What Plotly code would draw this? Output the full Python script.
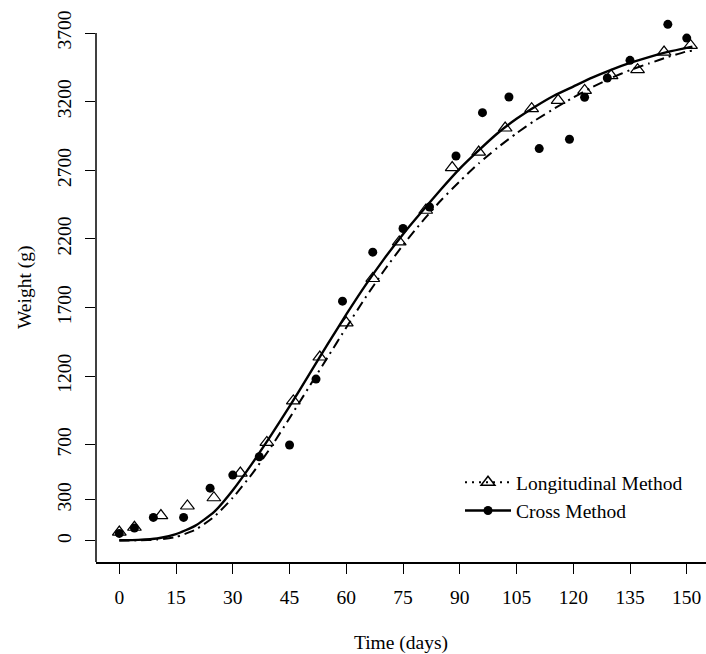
import plotly.graph_objects as go

# ---- data ----
long_days = [0, 4, 11, 18, 25, 32, 39, 46, 53, 60, 67, 74, 81, 88, 95, 102, 109, 116, 123, 130, 137, 144, 151]
long_weight = [65, 100, 185, 255, 315, 495, 718, 1020, 1340, 1589, 1912, 2178, 2409, 2720, 2833, 3008,
               3149, 3210, 3282, 3390, 3433, 3561, 3610]

cross_days = [0, 4, 9, 17, 24, 30, 37, 45, 52, 59, 67, 75, 82, 89, 96, 103, 111, 119, 123, 129, 135, 145, 150]
cross_weight = [55, 95, 172, 172, 385, 480, 614, 699, 1179, 1747, 2104, 2276, 2433, 2804, 3120, 3234,
                2858, 2926, 3232, 3372, 3501, 3763, 3663]

fit_days = [0, 5, 10, 15, 20, 25, 30, 35, 40, 45, 50, 55, 60, 65, 70, 75, 80, 85, 90, 95, 100,
            105, 110, 115, 120, 125, 130, 135, 140, 145, 150, 151.5]
cross_fit = [5, 8, 18, 50, 110, 210, 370, 560, 765, 980, 1205, 1430, 1650, 1860, 2055, 2235, 2400,
             2560, 2712, 2845, 2970, 3075, 3165, 3245, 3310, 3375, 3432, 3482, 3525, 3562, 3592, 3600]
long_fit = [3, 5, 10, 30, 80, 175, 315, 485, 680, 895, 1115, 1335, 1555, 1770, 1970, 2155, 2325,
            2480, 2620, 2750, 2865, 2970, 3065, 3150, 3230, 3305, 3372, 3430, 3478, 3525, 3566, 3572]

x_ticks = [0, 15, 30, 45, 60, 75, 90, 105, 120, 135, 150]
y_ticks = [0, 300, 700, 1200, 1700, 2200, 2700, 3200, 3700]

FONT = "Liberation Serif"
FS = 19.5
BLACK = "#000000"
Y_MIN, Y_MAX = -153, 3904

fig = go.Figure()

# fitted curves
fig.add_trace(go.Scatter(x=fit_days, y=long_fit, mode="lines", showlegend=False,
                         line=dict(color=BLACK, width=2, dash="10px,5px,2px,5px", shape="spline", smoothing=0.5),
                         hoverinfo="skip"))
fig.add_trace(go.Scatter(x=fit_days, y=cross_fit, mode="lines", showlegend=False,
                         line=dict(color=BLACK, width=2.4, shape="spline", smoothing=0.5),
                         hoverinfo="skip"))

# observed points
fig.add_trace(go.Scatter(x=long_days, y=long_weight, mode="markers", showlegend=False,
                         marker=dict(symbol="triangle-up-open", size=12, color=BLACK,
                                     line=dict(color=BLACK, width=1.2))))
fig.add_trace(go.Scatter(x=cross_days, y=cross_weight, mode="markers", showlegend=False,
                         marker=dict(symbol="circle", size=9, color=BLACK)))

# legend entries
fig.add_trace(go.Scatter(x=[None], y=[None], mode="lines+markers", name="Longitudinal Method",
                         line=dict(color=BLACK, width=2, dash="2px,5px"),
                         marker=dict(symbol="triangle-up-open", size=12, color=BLACK,
                                     line=dict(color=BLACK, width=1.5))))
fig.add_trace(go.Scatter(x=[None], y=[None], mode="lines+markers", name="Cross Method",
                         line=dict(color=BLACK, width=2.4),
                         marker=dict(symbol="circle", size=9, color=BLACK)))

fig.update_layout(
    width=706, height=654,
    margin=dict(l=96, r=0, t=5, b=92, autoexpand=False),
    paper_bgcolor="white", plot_bgcolor="white",
    font=dict(family=FONT, size=FS, color=BLACK),
    showlegend=True,
    legend=dict(x=(460 - 96) / 610, y=(562 - 463) / 557, xanchor="left", yanchor="top",
                bgcolor="rgba(0,0,0,0)", itemwidth=46,
                font=dict(family=FONT, size=FS, color=BLACK), tracegroupgap=0),
    xaxis=dict(range=[-6.16, 155.09], tickvals=x_ticks, ticks="outside", ticklen=10, tickwidth=1.3,
               tickcolor=BLACK, showline=True, linecolor=BLACK, linewidth=1.5, showgrid=False,
               zeroline=False, ticklabelstandoff=7,
               title=dict(text="Time (days)", font=dict(family=FONT, size=FS), standoff=29)),
    yaxis=dict(range=[Y_MIN, Y_MAX], tickvals=y_ticks, ticks="outside", ticklen=10, tickwidth=1.3,
               tickcolor=BLACK, showline=False, showgrid=False,
               zeroline=False, tickangle=-90, ticklabelstandoff=6),
    shapes=[dict(type="line", xref="paper", x0=0, x1=0, yref="y", y0=Y_MIN, y1=max(y_ticks),
                 line=dict(color=BLACK, width=1.5))],
    annotations=[dict(text="Weight (g)", xref="paper", yref="paper", x=0, y=(562 - 288) / 557,
                      xshift=-71, textangle=-90, showarrow=False, xanchor="center", yanchor="middle",
                      font=dict(family=FONT, size=FS, color=BLACK))],
)

fig.write_html("out.html", config={"displayModeBar": False},
               post_script="document.body.style.margin='0';")
